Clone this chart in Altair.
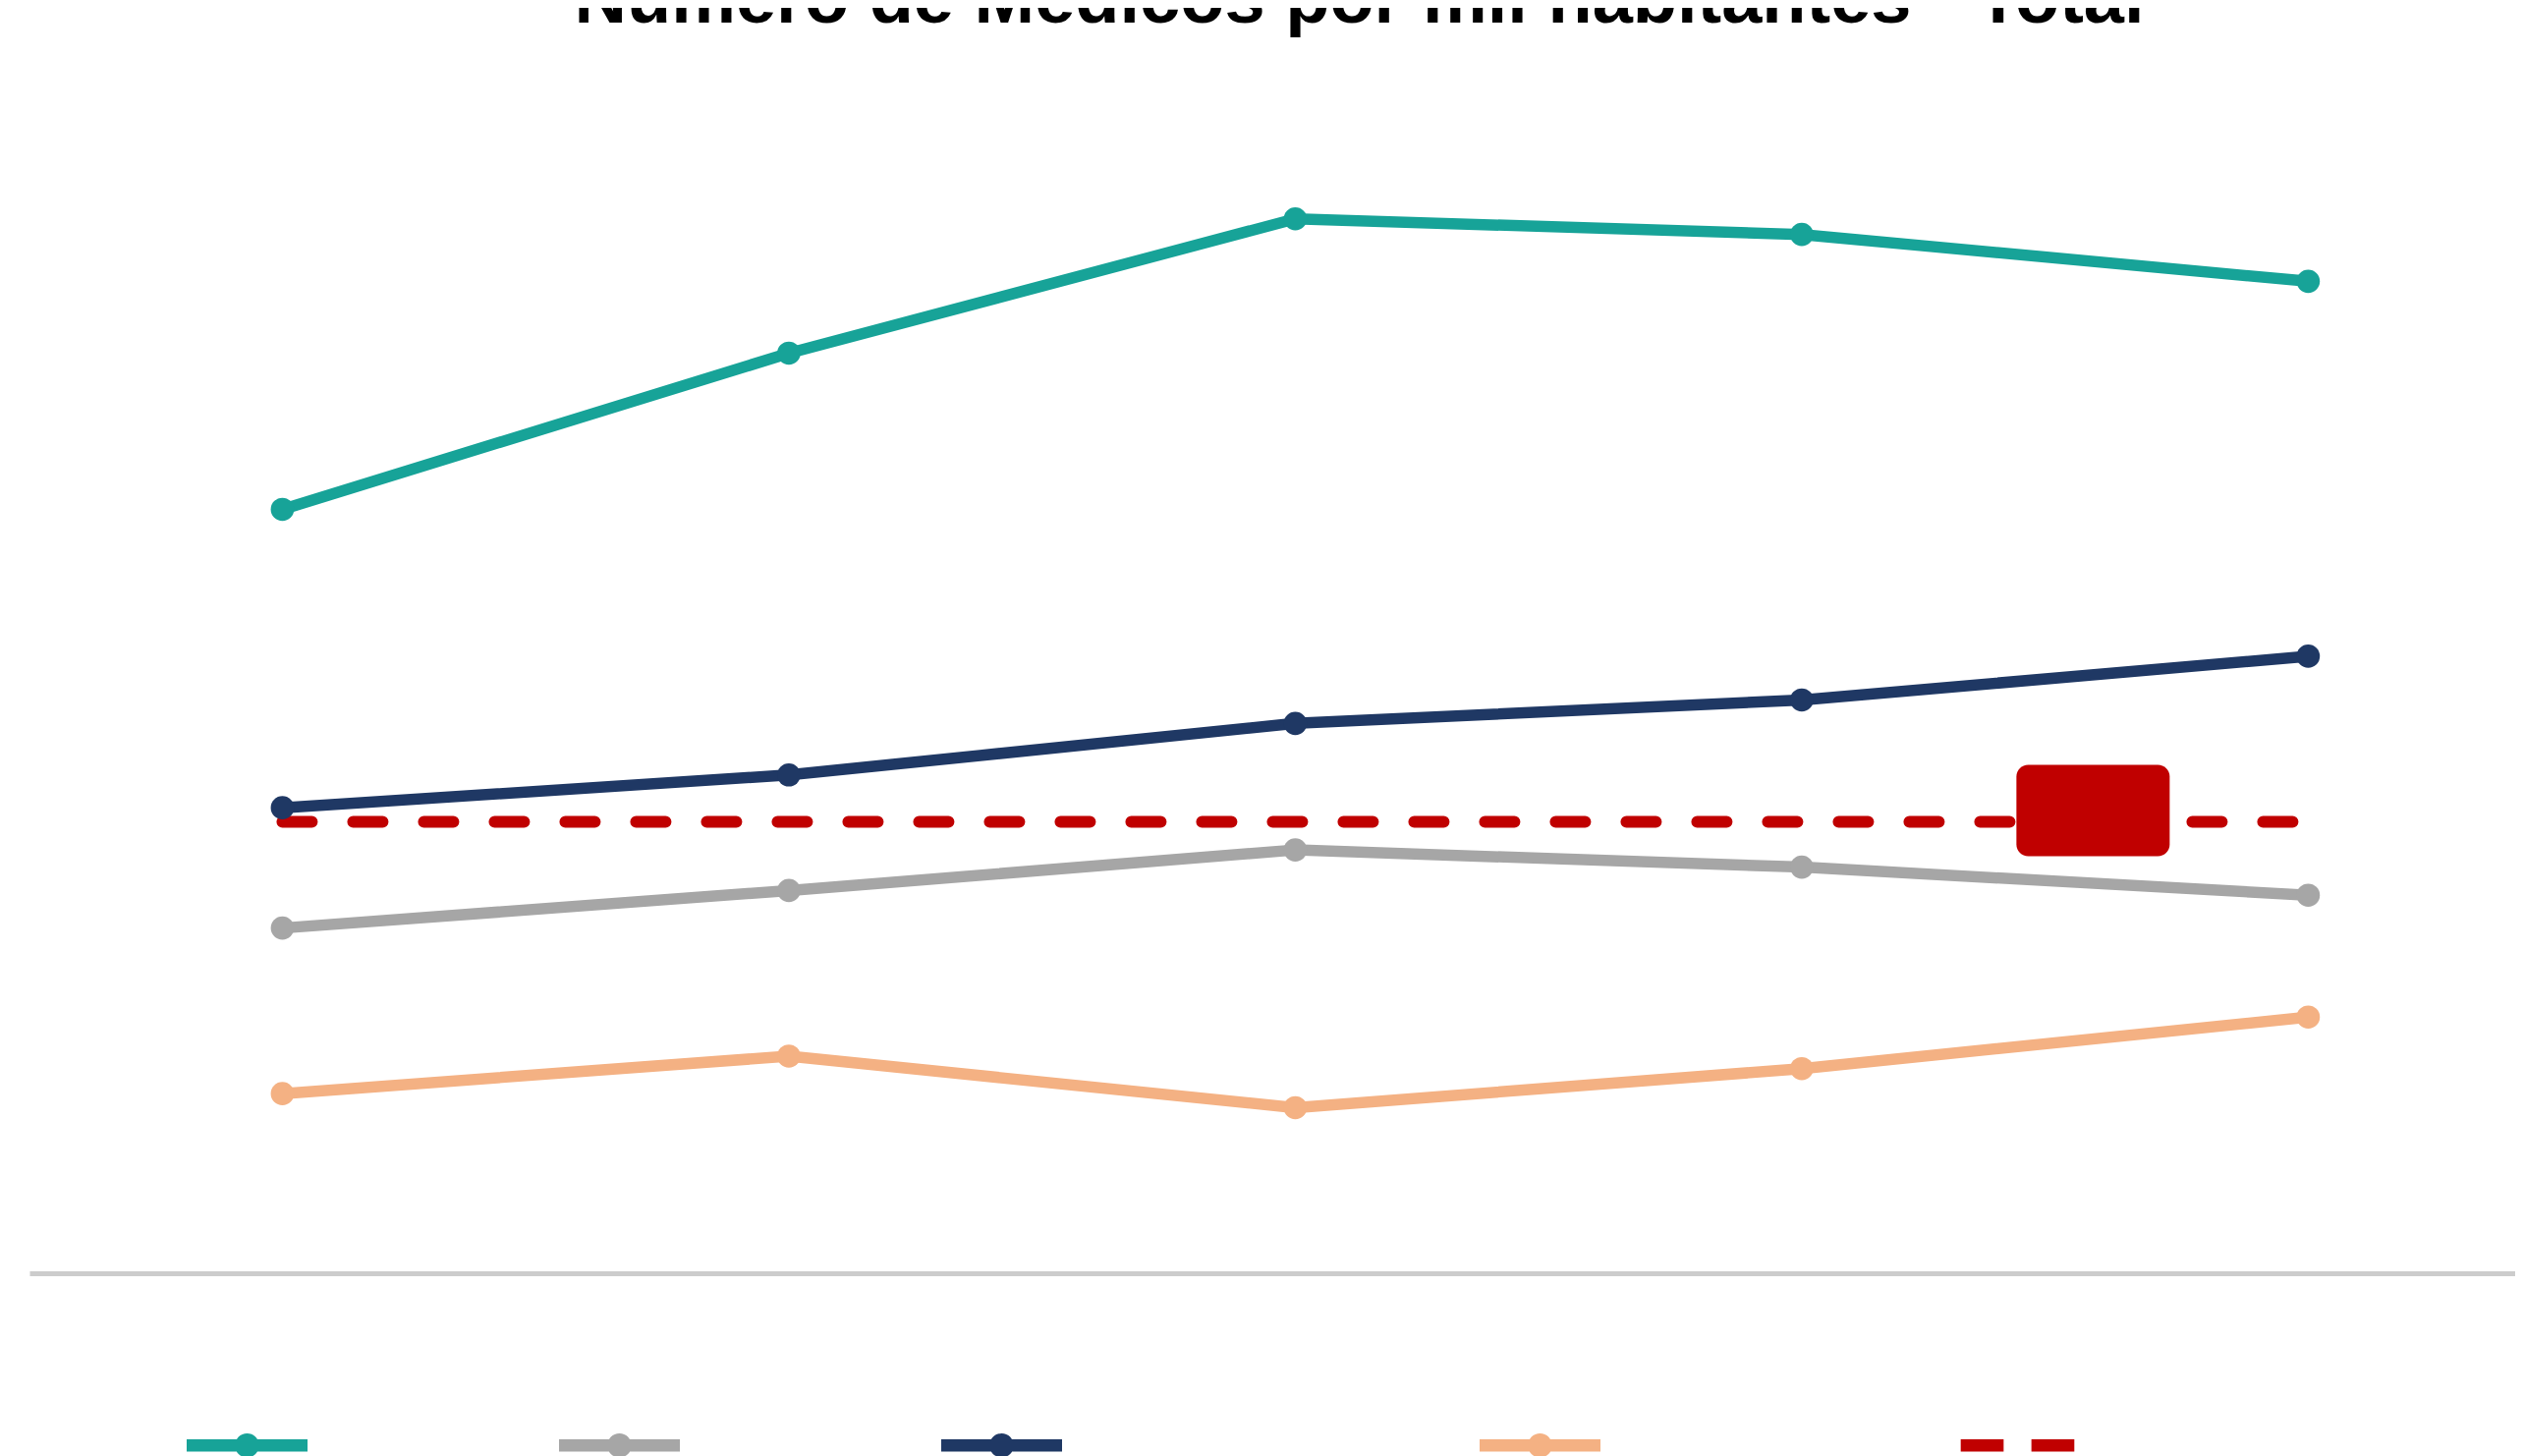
import altair as alt
import pandas as pd

# ---- data ----
anos = ["2018", "2019", "2020", "2021", "2022"]
series = ["Rio de Janeiro", "Média nacional", "Região Sudeste do Brasil",
          "Municípios do interior", "Parâmetro OMS"]
cores = ["#17A398", "#A6A6A6", "#1F3864", "#F4B183", "#C00000"]

teal_vals = [4.89, 5.89, 6.75, 6.65, 6.35]
gray_vals = [2.21, 2.45, 2.71, 2.60, 2.42]
navy_vals = [2.98, 3.19, 3.52, 3.67, 3.95]
peach_vals = [1.15, 1.39, 1.06, 1.31, 1.64]
ref_vals = [2.89, 2.89, 2.89, 2.89, 2.89]

titulo = "Número de Médicos por mil habitantes - Total"

rows = []
for nome, vals in zip(series, [teal_vals, gray_vals, navy_vals, peach_vals, ref_vals]):
    for a, v in zip(anos, vals):
        rows.append({"ano": a, "valor": v, "serie": nome})
df = pd.DataFrame(rows)
ref_name = series[4]

# ---- styling ----
line_path = ("M-1,-0.1 H1 V0.1 H-1 Z "
             "M0,-0.2 A0.2,0.2 0 1 1 0,0.2 A0.2,0.2 0 1 1 0,-0.2 Z")
dash_path = "M-0.94,-0.1 H-0.23 V0.1 H-0.94 Z M0.23,-0.1 H0.94 V0.1 H0.23 Z"
box_path = ("M-0.846,-0.596 H0.846 A0.154,0.154 0 0 1 1,-0.442 V0.442 "
            "A0.154,0.154 0 0 1 0.846,0.596 H-0.846 A0.154,0.154 0 0 1 -1,0.442 "
            "V-0.442 A0.154,0.154 0 0 1 -0.846,-0.596 Z")

stroke_scale = alt.Scale(domain=series, range=cores)
x_enc = alt.X("ano:O", sort=anos,
              scale=alt.Scale(type="point", padding=0.454, align=0.55),
              axis=alt.Axis(labels=False, ticks=False, title=None, grid=False,
                            domainColor="#CCCCCC", domainWidth=5))
y_enc = alt.Y("valor:Q", scale=alt.Scale(domain=[0, 8]), axis=None)

base = alt.Chart(df)

lines = base.transform_filter(alt.datum.serie != ref_name).mark_line(
    strokeWidth=11.5, strokeCap="round", strokeJoin="round"
).encode(x=x_enc, y=y_enc,
         stroke=alt.Stroke("serie:N", scale=stroke_scale, legend=None))

ref_line = base.transform_filter(alt.datum.serie == ref_name).mark_line(
    strokeWidth=12, strokeCap="round", strokeDash=[30, 42]
).encode(x=x_enc, y=y_enc,
         stroke=alt.Stroke("serie:N", scale=stroke_scale, legend=None))

points = base.transform_filter(alt.datum.serie != ref_name).mark_circle(
    size=560, opacity=1
).encode(x=x_enc, y=y_enc,
         fill=alt.Fill("serie:N", scale=stroke_scale, legend=None))

box = base.transform_filter(
    (alt.datum.serie == ref_name) & (alt.datum.ano == anos[-1])
).mark_point(shape=box_path, size=24336, filled=True, opacity=1,
             xOffset=-219, yOffset=-11.5, strokeWidth=0
).encode(x=x_enc, y=y_enc,
         fill=alt.Fill("serie:N", scale=stroke_scale, legend=None))

leg = alt.Legend(orient="none", legendX=160, legendY=1385.5, direction="horizontal",
                 title=None, symbolSize=15129, symbolStrokeWidth=0,
                 labelFontSize=35, labelFont="Liberation Sans", labelColor="white",
                 labelOffset=10, columnPadding=20, padding=0, labelLimit=1000,
                 symbolOpacity=1)

legend_layer = base.mark_point(filled=True, opacity=0, size=1).encode(
    x=x_enc, y=y_enc,
    color=alt.Color("serie:N", scale=alt.Scale(domain=series, range=cores),
                    legend=leg),
    shape=alt.Shape("serie:N",
                    scale=alt.Scale(domain=series,
                                    range=[line_path] * 4 + [dash_path]),
                    legend=leg))

title_df = pd.DataFrame({"t": [titulo]})
title_layer = alt.Chart(title_df).mark_text(
    fontSize=74, font="Liberation Sans", fontWeight="bold", color="black",
    align="center", baseline="alphabetic"
).encode(text="t:N", x=alt.value(1353.5), y=alt.value(-1.5))

chart = alt.layer(legend_layer, lines, ref_line, points, box, title_layer).properties(
    width=2530, height=1272,
    padding={"left": 22, "top": 16, "right": 0, "bottom": 220},
    autosize=alt.AutoSizeParams(type="none"),
    background="white",
).configure_view(stroke=None)

chart.save("out.html", embed_options={"renderer": "svg", "actions": False})
